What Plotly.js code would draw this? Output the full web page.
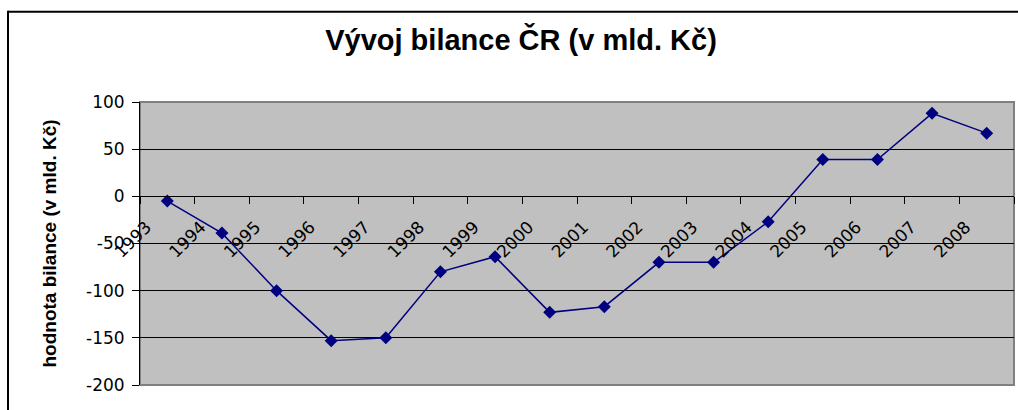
<!DOCTYPE html>
<html>
<head>
<meta charset="utf-8">
<script src="https://cdn.plot.ly/plotly-3.0.1.min.js"></script>
<style>
html,body{margin:0;padding:0;background:#fff;}
#chart{width:1018px;height:410px;}
</style>
</head>
<body>
<div id="chart"></div>
<script>
const years = ["1993","1994","1995","1996","1997","1998","1999","2000","2001","2002","2003","2004","2005","2006","2007","2008"];
const balance = [-5, -39, -100, -153, -150, -80, -64, -123, -117, -70, -70, -27, 39, 39, 88, 67];
const yTicks = [100, 50, 0, -50, -100, -150, -200];
const chartTitle = "Vývoj bilance ČR (v mld. Kč)";
const yTitle = "hodnota bilance (v mld. Kč)";

const W = 1018, H = 410;
const mL = 140, mR = 4, mT = 101.5, mB = 24.5;
const pw = W - mL - mR, ph = H - mT - mB;
const px = v => (v - mL) / pw;
const py = v => (H - mB - v) / ph;

const tickFont = {size: 17, color: '#000', family: '"DejaVu Sans", Arial, sans-serif'};

const trace = {
  x: years,
  y: balance,
  type: 'scatter',
  mode: 'lines+markers',
  line: {color: '#000080', width: 1.5},
  marker: {symbol: 'diamond', size: 10, color: '#000080'},
  cliponaxis: false,
  hoverinfo: 'x+y'
};

const layout = {
  width: W, height: H,
  margin: {l: mL, r: mR, t: mT, b: mB, pad: 0},
  paper_bgcolor: '#ffffff',
  plot_bgcolor: '#c0c0c0',
  showlegend: false,
  font: {family: 'Arial, "Liberation Sans", sans-serif', color: '#000'},
  title: {
    text: '<b>' + chartTitle + '</b>',
    font: {size: 29, color: '#000', family: 'Arial, "Liberation Sans", sans-serif'},
    xref: 'container', x: 521 / W, xanchor: 'center',
    yref: 'container', y: 1 - 40 / H, yanchor: 'middle'
  },
  xaxis: {
    type: 'category',
    categoryorder: 'array',
    categoryarray: years,
    range: [-0.5, years.length - 0.5],
    anchor: 'free',
    position: 2 / 3,
    showline: true, linecolor: '#000', linewidth: 1,
    ticks: 'outside', ticklen: 7, tickcolor: '#000', tickwidth: 1,
    tickson: 'boundaries',
    tickangle: -45,
    ticklabelshift: -21,
    ticklabelstandoff: 13,
    showgrid: false,
    zeroline: false,
    tickfont: tickFont,
    fixedrange: true
  },
  yaxis: {
    range: [-200, 100],
    tickvals: yTicks,
    ticktext: yTicks.map(String),
    showline: true, linecolor: '#000', linewidth: 1,
    ticks: 'outside', ticklen: 7, tickcolor: '#000', tickwidth: 1,
    showgrid: true, gridcolor: '#000', gridwidth: 1,
    zeroline: true, zerolinecolor: '#000', zerolinewidth: 1,
    tickfont: tickFont,
    ticklabelstandoff: 4,
    title: {
      text: '<b>' + yTitle + '</b>',
      font: {size: 19, color: '#000', family: 'Arial, "Liberation Sans", sans-serif'},
      standoff: 24
    },
    automargin: false,
    fixedrange: true
  },
  shapes: [
    {type: 'rect', xref: 'paper', yref: 'paper', x0: 0, x1: 1, y0: 0, y1: 1,
     line: {color: '#808080', width: 2}, layer: 'below'},
    {type: 'line', xref: 'paper', yref: 'paper', x0: px(8), x1: px(1030), y0: py(11), y1: py(11),
     line: {color: '#000', width: 2}},
    {type: 'line', xref: 'paper', yref: 'paper', x0: px(8), x1: px(8), y0: py(10), y1: py(420),
     line: {color: '#000', width: 2}}
  ]
};

Plotly.newPlot('chart', [trace], layout, {displayModeBar: false, staticPlot: true});
</script>
</body>
</html>
